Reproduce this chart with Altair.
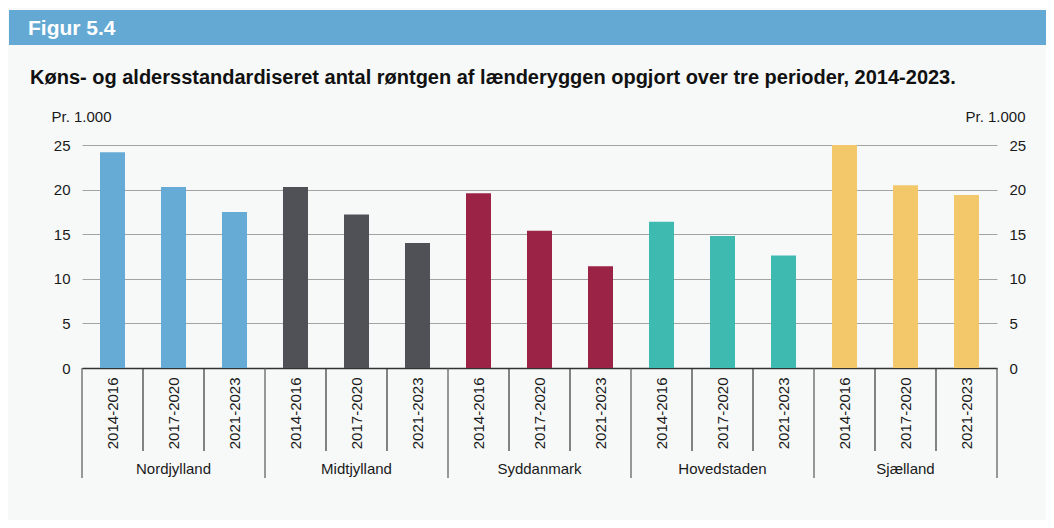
import altair as alt
import pandas as pd

regions = ["Nordjylland", "Midtjylland", "Syddanmark", "Hovedstaden", "Sjælland"]
periods = ["2014-2016", "2017-2020", "2021-2023"]
nordjylland = [24.2, 20.3, 17.5]
midtjylland = [20.3, 17.2, 14.0]
syddanmark = [19.6, 15.4, 11.4]
hovedstaden = [16.4, 14.8, 12.6]
sjaelland = [25.0, 20.5, 19.4]
colors = ["#65abd6", "#505157", "#9b2346", "#3fbab1", "#f3c86b"]
y_ticks = [0, 5, 10, 15, 20, 25]
header_text = "Figur 5.4"
title_text = "Køns- og aldersstandardiseret antal røntgen af lænderyggen opgjort over tre perioder, 2014-2023."
unit_text = "Pr. 1.000"

rows = []
for r, vals in zip(regions, [nordjylland, midtjylland, syddanmark, hovedstaden, sjaelland]):
    for i, (p, v) in enumerate(zip(periods, vals)):
        rows.append({"region": r, "period": p, "key": r + "|" + p, "value": v,
                     "first": i == 0, "mid": i == 1})
df = pd.DataFrame(rows)
keys = list(df["key"])

W, H = 915, 223
PL, PT, PR, PB = 74, 137, 49, 152
FONT = "Liberation Sans"

xscale = alt.Scale(domain=keys, paddingInner=0, paddingOuter=0)
yscale = alt.Scale(domain=[0, 25], nice=False, zero=True)

xaxis = alt.Axis(
    title=None, labelExpr="split(datum.value, '|')[1]", labelAngle=270,
    labelAlign="right", labelBaseline="middle", labelPadding=9,
    labelFontSize=15, labelColor="#1a1a1a", ticks=False, labelOverlap=False,
    domainColor="#333333", domainWidth=1.5, grid=False)


def xenc(**kw):
    return alt.X("key:N", scale=xscale, sort=None, axis=xaxis, **kw)


base = alt.Chart(df)

bars = base.mark_bar(width=alt.RelativeBandSize(0.41)).encode(
    x=xenc(),
    y=alt.Y("value:Q", scale=yscale, axis=alt.Axis(
        values=y_ticks, title=unit_text, titleAngle=0, titleX=-31, titleY=-23.5,
        titleAlign="left", titleBaseline="alphabetic", titleFontWeight="normal",
        titleFontSize=15, titleColor="#1a1a1a", grid=True, gridColor="#a3a3a3",
        gridWidth=1, domain=False, ticks=False, labelPadding=12, labelFontSize=15,
        labelColor="#1a1a1a")),
    color=alt.Color("region:N", scale=alt.Scale(domain=regions, range=colors), legend=None),
)

right_axis = base.mark_bar(opacity=0).encode(
    x=xenc(),
    y=alt.Y("value:Q", scale=yscale, axis=alt.Axis(
        orient="right", values=y_ticks, title=unit_text, titleAngle=0, titleX=28,
        titleY=-23.5, titleAlign="right", titleBaseline="alphabetic",
        titleFontWeight="normal", titleFontSize=15, titleColor="#1a1a1a", grid=False,
        domain=False, ticks=False, labelPadding=12, labelFontSize=15,
        labelColor="#1a1a1a")),
)

period_sep = base.transform_filter("!datum.first").mark_rule(color="#333333", strokeWidth=1.2).encode(
    x=xenc(bandPosition=0),
    y=alt.value(H), y2=alt.value(H + 83),
)

group_sep = base.transform_filter("datum.first").mark_rule(color="#555555", strokeWidth=1.2).encode(
    x=xenc(bandPosition=0),
    y=alt.value(H), y2=alt.value(H + 110),
)

end_sep = alt.Chart(pd.DataFrame({"a": [0]})).mark_rule(color="#555555", strokeWidth=1.2).encode(
    x=alt.value(W), y=alt.value(H), y2=alt.value(H + 110),
)

group_labels = base.transform_filter("datum.mid").mark_text(
    fontSize=15, color="#1a1a1a", baseline="middle", align="center").encode(
    x=xenc(),
    y=alt.value(H + 101),
    text="region:N",
)

one = pd.DataFrame({"a": [0]})
header_rect = alt.Chart(one).mark_rect(color="#64a9d4").encode(
    x=alt.value(-73), x2=alt.value(W + PR + 10), y=alt.value(-135), y2=alt.value(-100),
)
header_label = alt.Chart(one).mark_text(
    text=header_text, color="white", fontWeight="bold", fontSize=21,
    align="left", baseline="alphabetic").encode(x=alt.value(-54), y=alt.value(-110.5))
title_label = alt.Chart(one).mark_text(
    text=title_text, color="#111111", fontWeight="bold", fontSize=20,
    align="left", baseline="alphabetic").encode(x=alt.value(-52), y=alt.value(-61))

chart = alt.layer(
    header_rect, header_label, title_label, bars, right_axis,
    period_sep, group_sep, end_sep, group_labels,
).resolve_axis(y="independent").properties(
    width=W, height=H,
    autosize=alt.AutoSizeParams(type="none"),
    padding={"left": PL, "top": PT, "right": PR, "bottom": PB},
    background="#f7f9f9",
).configure(font=FONT).configure_view(stroke=None)

chart.save("out.html", embed_options={"renderer": "svg", "actions": False})
